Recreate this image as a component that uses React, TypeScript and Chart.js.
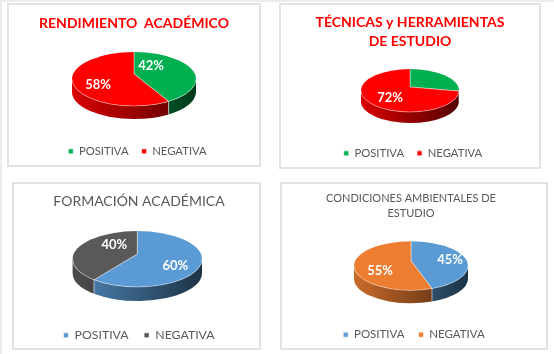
import React, { useEffect, useRef } from "react";
import { Chart, registerables } from "chart.js";

Chart.register(...registerables);

const categories = ["POSITIVA", "NEGATIVA"];
const rendimientoValues = [42, 58];
const tecnicasValues = [28, 72];
const formacionValues = [60, 40];
const condicionesValues = [45, 55];

const GREEN = "#00b050";
const RED = "#ff0000";
const BLUE = "#5b9bd5";
const GREY = "#595959";
const ORANGE = "#ed7d31";

type Panel = {
  title: string[];
  values: number[];
  colors: string[];
  box: [number, number, number, number];
  center: [number, number];
  rx: number;
  ry: number;
  depth: number;
  lift: number;
  titleSize: number;
  titleWeight: string;
  titleColor: string;
  titleTop: number;
  spacing: number;
  legendSize: number;
  legendPad: number;
  legendShift: number;
  legendDx: number;
  shiftX: number;
  labelSize: number;
  labelPos: ([number, number] | null)[];
};

const panels: Panel[] = [
  {
    title: ["RENDIMIENTO  ACADÉMICO"], values: rendimientoValues, colors: [GREEN, RED],
    box: [7, 3, 254, 164], center: [134, 79], rx: 62, ry: 27, depth: 13, lift: 5,
    titleSize: 14, titleWeight: "bold", titleColor: RED, titleTop: 11, spacing: 0.3,
    legendSize: 11.3, legendPad: 13, legendShift: 0, legendDx: 3.5, shiftX: 0, labelSize: 13, labelPos: [[17, -13], [-36, 6]],
  },
  {
    title: ["TÉCNICAS y HERRAMIENTAS", "DE ESTUDIO"], values: tecnicasValues, colors: [GREEN, RED],
    box: [279, 3, 262, 166], center: [410, 90.5], rx: 49, ry: 21.5, depth: 11, lift: 3.5,
    titleSize: 14, titleWeight: "bold", titleColor: RED, titleTop: 10, spacing: 0.45,
    legendSize: 11.3, legendPad: 13, legendShift: 0, legendDx: 3, shiftX: 0, labelSize: 13, labelPos: [null, [-20, 7]],
  },
  {
    title: ["FORMACIÓN ACADÉMICA"], values: formacionValues, colors: [BLUE, GREY],
    box: [12, 182, 249, 168], center: [137.3, 259], rx: 64.7, ry: 28, depth: 14, lift: 5,
    titleSize: 14, titleWeight: "normal", titleColor: GREY, titleTop: 10, spacing: 0.3,
    legendSize: 12.3, legendPad: 15.5, legendShift: -1.4, legendDx: 0, shiftX: 5, labelSize: 13, labelPos: [[38, 7], [-23, -14]],
  },
  {
    title: ["CONDICIONES AMBIENTALES DE", "ESTUDIO"], values: condicionesValues, colors: [BLUE, ORANGE],
    box: [280, 182, 268, 168], center: [411, 265.8], rx: 57, ry: 24.5, depth: 13, lift: 5,
    titleSize: 11, titleWeight: "normal", titleColor: GREY, titleTop: 9, spacing: 0.2,
    legendSize: 11.5, legendPad: 14, legendShift: -0.4, legendDx: 3, shiftX: -6, labelSize: 13, labelPos: [[39, -6], [-31, 5]],
  },
];

function shade(hex: string, f: number) {
  const n = parseInt(hex.slice(1), 16);
  const c = [(n >> 16) & 255, (n >> 8) & 255, n & 255].map((v) => Math.round(v * f));
  return `rgb(${c[0]},${c[1]},${c[2]})`;
}

const pie3d = (p: Panel) => ({
  id: "pie3d",
  beforeInit(chart: any) {
    chart.ctx.letterSpacing = `${p.spacing}px`;
  },
  afterLayout(chart: any) {
    chart.legend.left += p.legendDx;
    chart.legend.right += p.legendDx;
  },
  beforeDatasetsDraw(chart: any) {
    const ctx = chart.ctx;
    const cx = p.center[0] - p.box[0];
    const cy = p.center[1] - p.box[1];
    const ax = cx;
    const ay = cy - p.lift;
    const k = p.ry / p.rx;
    const arcs = chart.getDatasetMeta(0).data;
    // Rim angle on the ellipse of a ray leaving the raised apex at the slice's angle.
    const rimAngle = (ang: number) => {
      const dx = Math.cos(ang);
      const dy = Math.sin(ang) * k;
      const A = (dx * dx) / (p.rx * p.rx) + (dy * dy) / (p.ry * p.ry);
      const B = (2 * (-p.lift) * dy) / (p.ry * p.ry);
      const C = (p.lift * p.lift) / (p.ry * p.ry) - 1;
      const t = (-B + Math.sqrt(B * B - 4 * A * C)) / (2 * A);
      const x = t * dx;
      const y = t * dy - p.lift;
      let out = Math.atan2(y / p.ry, x / p.rx);
      if (ang > Math.PI && out < 0) out += Math.PI * 2;
      if (ang < -Math.PI / 2 + 1e-6) out = -Math.PI / 2;
      return out;
    };
    arcs.forEach((arc: any, i: number) => {
      const r0 = rimAngle(arc.startAngle);
      const r1 = rimAngle(arc.endAngle);
      const a0 = Math.max(r0, 0);
      const a1 = Math.min(r1 < r0 ? r1 + Math.PI * 2 : r1, Math.PI);
      if (a1 <= a0) return;
      const g = ctx.createLinearGradient(cx - p.rx, 0, cx + p.rx, 0);
      g.addColorStop(0, shade(p.colors[i], 0.85));
      g.addColorStop(1, shade(p.colors[i], 0.33));
      ctx.beginPath();
      ctx.ellipse(cx, cy, p.rx, p.ry, 0, a0, a1);
      ctx.ellipse(cx, cy + p.depth, p.rx, p.ry, 0, a1, a0, true);
      ctx.closePath();
      ctx.fillStyle = g;
      ctx.fill();
      if (a0 > 0) {
        const x = cx + p.rx * Math.cos(a0);
        const y = cy + p.ry * Math.sin(a0);
        ctx.beginPath();
        ctx.moveTo(x, y);
        ctx.lineTo(x, y + p.depth);
        ctx.strokeStyle = "rgba(255,255,255,0.55)";
        ctx.lineWidth = 1;
        ctx.stroke();
      }
    });
    const first = arcs[0];
    ctx.save();
    ctx.beginPath();
    ctx.ellipse(cx, cy, p.rx, p.ry, 0, 0, Math.PI * 2);
    ctx.clip();
    ctx.translate(ax, ay);
    ctx.scale(1, k);
    ctx.translate(-first.x, -first.y);
  },
  afterDatasetsDraw(chart: any) {
    const ctx = chart.ctx;
    ctx.restore();
    const cx = p.center[0] - p.box[0];
    const cy = p.center[1] - p.box[1];
    ctx.beginPath();
    ctx.ellipse(cx, cy, p.rx, p.ry, 0, 0, Math.PI);
    ctx.strokeStyle = "rgba(255,255,255,0.5)";
    ctx.lineWidth = 0.8;
    ctx.stroke();
    ctx.save();
    ctx.font = `bold ${p.labelSize}px Lato`;
    ctx.fillStyle = "#ffffff";
    ctx.textAlign = "center";
    ctx.textBaseline = "middle";
    p.values.forEach((v, i) => {
      const pos = p.labelPos[i];
      if (pos) ctx.fillText(`${v}%`, cx + pos[0], cy + pos[1]);
    });
    ctx.restore();
  },
});

function PieCard({ panel }: { panel: Panel }) {
  const ref = useRef<HTMLCanvasElement>(null);
  useEffect(() => {
    const chart = new Chart(ref.current as HTMLCanvasElement, {
      type: "pie",
      data: {
        labels: categories,
        datasets: [{
          data: panel.values,
          backgroundColor: panel.colors,
          borderColor: "rgba(255,255,255,0.6)",
          borderWidth: 1,
          radius: panel.rx * 1.4,
          clip: false,
        } as any],
      },
      options: {
        responsive: false,
        animation: false,
        layout: {
          padding: {
            left: Math.max(panel.shiftX, 0),
            right: Math.max(-panel.shiftX, 0),
            bottom: panel.legendShift,
          },
        },
        plugins: {
          tooltip: { enabled: false },
          title: {
            display: true,
            text: panel.title,
            color: panel.titleColor,
            font: { family: "Lato", size: panel.titleSize, weight: panel.titleWeight as any, lineHeight: 1.36 },
            padding: { top: panel.titleTop, bottom: 4 },
          },
          legend: {
            position: "bottom",
            labels: {
              color: "#595959",
              font: { family: "Lato", size: panel.legendSize },
              usePointStyle: true,
              pointStyle: "rect",
              boxWidth: 5,
              boxHeight: 5,
              padding: panel.legendPad,
            },
          },
        },
      },
      plugins: [pie3d(panel)],
    } as any);
    return () => chart.destroy();
  }, [panel]);
  const [x, y, w, h] = panel.box;
  return (
    <div style={{ position: "absolute", left: x, top: y, width: w, height: h }}>
      <canvas ref={ref} width={w} height={h} style={{ display: "block" }} />
      <div style={{ position: "absolute", inset: 0, boxSizing: "border-box", border: "2px solid #e2e2e2", pointerEvents: "none" }} />
    </div>
  );
}

export default function App() {
  return (
    <div style={{ position: "absolute", left: 0, top: 0, width: 554, height: 354, background: "#fff", overflow: "hidden" }}>
      <div style={{ position: "absolute", left: 0, top: 0, width: 554, height: 2, background: "#ececec" }} />
      <div style={{ position: "absolute", left: 0, top: 0, width: 2, height: 354, background: "#ececec" }} />
      {panels.map((p, i) => <PieCard key={i} panel={p} />)}
    </div>
  );
}
